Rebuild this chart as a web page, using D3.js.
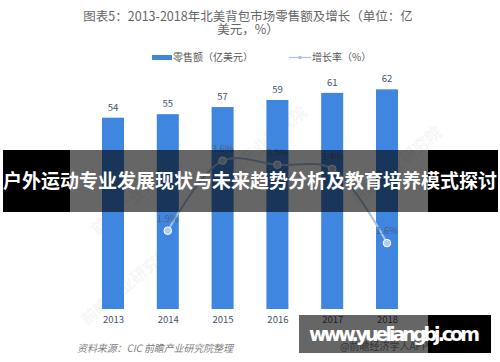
<!DOCTYPE html>
<html>
<head>
<meta charset="utf-8">
<script src="https://cdn.jsdelivr.net/npm/d3@7"></script>
<style>
  body { margin: 0; background: #fff; }
  svg { display: block; font-family: "Noto Sans CJK SC", "Noto Sans", sans-serif; }
</style>
</head>
<body>
<svg id="chart" width="500" height="362"></svg>
<script>
const years = ["2013", "2014", "2015", "2016", "2017", "2018"];
const sales = [54, 55, 57, 59, 61, 62];
const growthYears = ["2014", "2015", "2016", "2017", "2018"];
const growth = [1.9, 3.6, 3.5, 3.4, 1.6];

const svg = d3.select("#chart");

const x = d3.scalePoint().domain(years).range([113, 387]);
const yBar = d3.scaleLinear().domain([0, 70]).range([309, 61]);
const yLine = d3.scaleLinear().domain([0, 5]).range([309, 103]);
const barW = 22;

// title
const title = svg.append("text")
    .attr("text-anchor", "middle")
    .attr("fill", "#666")
    .attr("font-size", 12.5);
title.append("tspan").attr("x", 248).attr("y", 21).text("图表5：2013-2018年北美背包市场零售额及增长（单位：亿");
title.append("tspan").attr("x", 248).attr("y", 34).text("美元，%）");

// legend
const lg = svg.append("g");
lg.append("rect").attr("x", 152).attr("y", 55).attr("width", 20).attr("height", 5).attr("fill", "#3f86e0");
lg.append("text").attr("x", 173).attr("y", 61).attr("font-size", 10).attr("fill", "#595959").text("零售额（亿美元）");
lg.append("line").attr("x1", 289).attr("x2", 311).attr("y1", 57.5).attr("y2", 57.5)
    .attr("stroke", "#a9c4e2").attr("stroke-width", 1.2);
lg.append("circle").attr("cx", 300).attr("cy", 57.5).attr("r", 1.8).attr("fill", "#a9c4e2");
lg.append("text").attr("x", 312).attr("y", 61).attr("font-size", 10).attr("fill", "#595959").text("增长率（%）");

// faint watermarks
[[140, 200], [265, 150], [400, 170], [130, 290]].forEach(([wx, wy]) => {
    svg.append("text")
        .attr("transform", `translate(${wx},${wy})rotate(-40)`)
        .attr("text-anchor", "middle")
        .attr("font-size", 16)
        .attr("font-weight", "bold")
        .attr("fill", "#000")
        .attr("opacity", 0.03)
        .text("前瞻产业研究院");
});

// bars
svg.append("g").selectAll("rect")
    .data(sales)
    .enter()
    .append("rect")
    .attr("x", (d, i) => x(years[i]) - barW / 2)
    .attr("y", d => yBar(d))
    .attr("width", barW)
    .attr("height", d => yBar(0) - yBar(d))
    .attr("fill", "#3f86e0");

svg.append("g").selectAll("text")
    .data(sales)
    .enter()
    .append("text")
    .attr("x", (d, i) => x(years[i]))
    .attr("y", d => yBar(d) - 7)
    .attr("text-anchor", "middle")
    .attr("font-size", 9.5)
    .attr("fill", "#44546a")
    .text(d => d);

// growth line
const pts = growth.map((d, i) => [x(growthYears[i]), yLine(d)]);
svg.append("path")
    .datum(pts)
    .attr("fill", "none")
    .attr("stroke", "#a9c4e2")
    .attr("stroke-width", 2)
    .attr("d", d3.line().curve(d3.curveCatmullRom.alpha(0.5)));

svg.append("g").selectAll("circle")
    .data(pts)
    .enter()
    .append("circle")
    .attr("cx", d => d[0])
    .attr("cy", d => d[1])
    .attr("r", 3.8)
    .attr("fill", "#b5cdea")
    .attr("stroke", "#fff")
    .attr("stroke-width", 1);

svg.append("g").selectAll("text")
    .data(growth)
    .enter()
    .append("text")
    .attr("x", (d, i) => x(growthYears[i]))
    .attr("y", d => yLine(d) - 9)
    .attr("text-anchor", "middle")
    .attr("font-size", 9.5)
    .attr("fill", "#4a6384")
    .text(d => d.toFixed(1) + "%");

// x axis labels
const xAxis = d3.axisBottom(x).tickSize(0).tickPadding(7);
svg.append("g")
    .attr("transform", "translate(0,309)")
    .call(xAxis)
    .call(g => g.select(".domain").remove())
    .call(g => g.selectAll("text").attr("font-size", 9.5).attr("fill", "#44546a")
        .attr("font-family", "\"Noto Sans CJK SC\", sans-serif"));

// source
svg.append("text")
    .attr("x", 77).attr("y", 352)
    .attr("font-size", 10)
    .attr("font-style", "italic")
    .attr("fill", "#7f7f7f")
    .attr("textLength", 156)
    .text("资料来源：CIC  前瞻产业研究院整理");

// banner overlay
svg.append("rect").attr("x", 3).attr("y", 150).attr("width", 67).attr("height", 62).attr("fill", "#000");
svg.append("rect").attr("x", 70).attr("y", 150).attr("width", 358).attr("height", 62).attr("fill", "#000").attr("opacity", 0.6);
svg.append("rect").attr("x", 428).attr("y", 150).attr("width", 70).attr("height", 62).attr("fill", "#000");
svg.append("text")
    .attr("x", 250).attr("y", 188)
    .attr("text-anchor", "middle")
    .attr("font-size", 19)
    .attr("font-weight", "bold")
    .attr("fill", "#fff")
    .attr("textLength", 494)
    .text("户外运动专业发展现状与未来趋势分析及教育培养模式探讨");

// site overlay
svg.append("text")
    .attr("x", 340).attr("y", 350)
    .attr("font-size", 10)
    .attr("fill", "#888")
    .text("@前瞻经济学人APP");
svg.append("rect").attr("x", 299).attr("y", 315).attr("width", 129).attr("height", 38).attr("fill", "#000").attr("opacity", 0.6);
svg.append("rect").attr("x", 428).attr("y", 315).attr("width", 63).attr("height", 38).attr("fill", "#000");
svg.append("text")
    .attr("x", 309).attr("y", 341)
    .attr("font-family", "\"DejaVu Sans\", sans-serif")
    .attr("font-size", 19)
    .attr("font-weight", "bold")
    .attr("fill", "#fff")
    .attr("textLength", 171)
    .text("www.yueliangbj.com");
</script>
</body>
</html>
